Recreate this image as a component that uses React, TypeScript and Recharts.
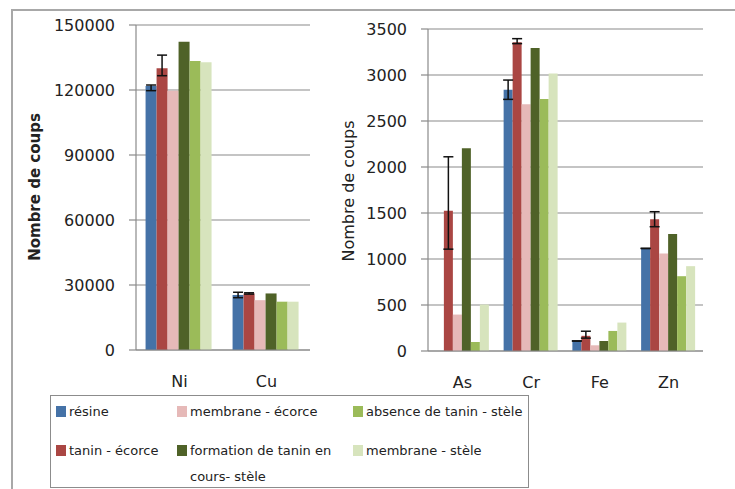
import React from 'react';
import { BarChart, Bar, XAxis, YAxis, CartesianGrid, ErrorBar } from 'recharts';

const leftCategories = ['Ni', 'Cu'];
const rightCategories = ['As', 'Cr', 'Fe', 'Zn'];

const seriesNames = [
  'résine',
  'tanin - écorce',
  'membrane - écorce',
  'formation de tanin en cours- stèle',
  'absence de tanin - stèle',
  'membrane - stèle',
];
const seriesColors = ['#4572A7', '#AA4643', '#E6B9B8', '#4F6228', '#9BBB59', '#D7E4BD'];

// left chart values (Ni, Cu)
const resineL = [121800, 25400];
const taninL = [130000, 26100];
const membraneEcorceL = [119700, 23000];
const formationL = [142300, 26100];
const absenceL = [133400, 22300];
const membraneSteleL = [132800, 22300];
// error bars: [minus, plus]
const resineErrL = [[2100, 500], [1250, 1250]];
const taninErrL = [[3400, 6100], [300, 300]];

// right chart values (As, Cr, Fe, Zn)
const resineR = [0, 2840, 109, 1115];
const taninR = [1525, 3355, 165, 1431];
const membraneEcorceR = [396, 2683, 62, 1060];
const formationR = [2204, 3293, 109, 1271];
const absenceR = [98, 2738, 218, 813];
const membraneSteleR = [505, 3017, 309, 922];
const resineErrR = [[0, 0], [105, 105], [0, 0], [0, 0]];
const taninErrR = [[418, 586], [14, 40], [25, 50], [80, 83]];

const leftTicks = [0, 30000, 60000, 90000, 120000, 150000];
const rightTicks = [0, 500, 1000, 1500, 2000, 2500, 3000, 3500];

const keys = ['s0', 's1', 's2', 's3', 's4', 's5'];

function buildData(cats: string[], series: number[][], errs: number[][][]) {
  return cats.map((c, i) => {
    const row: any = { name: c };
    series.forEach((s, j) => {
      row[keys[j]] = s[i];
    });
    row.e0 = errs[0][i];
    row.e1 = errs[1][i];
    return row;
  });
}

const leftData = buildData(
  leftCategories,
  [resineL, taninL, membraneEcorceL, formationL, absenceL, membraneSteleL],
  [resineErrL, taninErrL]
);
const rightData = buildData(
  rightCategories,
  [resineR, taninR, membraneEcorceR, formationR, absenceR, membraneSteleR],
  [resineErrR, taninErrR]
);

const FONT = '"DejaVu Sans", sans-serif';
const GRID = '#8a8a8a';
const tickStyle = { fontSize: 16, fill: '#222', fontFamily: FONT };

function renderBars() {
  return keys.map((k, j) => (
    <Bar key={k} dataKey={k} fill={seriesColors[j]} isAnimationActive={false}>
      {j < 2 ? (
        <ErrorBar dataKey={'e' + j} width={5} stroke="#111" strokeWidth={1.5} />
      ) : null}
    </Bar>
  ));
}

const legendLayout = [
  { idx: 0, x: 56, y: 412 },
  { idx: 1, x: 56, y: 451 },
  { idx: 2, x: 177, y: 412 },
  { idx: 3, x: 177, y: 451 },
  { idx: 4, x: 353, y: 412 },
  { idx: 5, x: 353, y: 451 },
];

export default function App() {
  return (
    <div
      style={{
        position: 'absolute',
        left: 0,
        top: 0,
        width: 735,
        height: 489,
        overflow: 'hidden',
        background: '#fff',
        fontFamily: FONT,
      }}
    >
      <div
        style={{
          position: 'absolute',
          left: 11,
          top: 9,
          width: 740,
          height: 500,
          border: '2px solid #a8a8a8',
        }}
      />
      <div style={{ position: 'absolute', left: 0, top: 0 }}>
        <BarChart
          width={320}
          height={400}
          data={leftData}
          margin={{ top: 25, right: 10, bottom: 20, left: 0 }}
          barGap={0}
          barCategoryGap="11%"
        >
          <CartesianGrid vertical={false} stroke={GRID} strokeWidth={1.2} />
          <XAxis
            dataKey="name"
            height={30}
            tickLine={false}
            tickSize={0}
            tickMargin={26}
            axisLine={{ stroke: GRID, strokeWidth: 1.2 }}
            tick={tickStyle}
            interval={0}
          />
          <YAxis
            width={136}
            domain={[0, 150000]}
            ticks={leftTicks}
            tickSize={7}
            tickMargin={14}
            tickLine={{ stroke: GRID, strokeWidth: 1.2 }}
            axisLine={{ stroke: GRID, strokeWidth: 1.2 }}
            tick={tickStyle}
            interval={0}
          />
          {renderBars()}
        </BarChart>
      </div>
      <div style={{ position: 'absolute', left: 320, top: 0 }}>
        <BarChart
          width={393}
          height={400}
          data={rightData}
          margin={{ top: 29, right: 10, bottom: 19, left: 0 }}
          barGap={0}
          barCategoryGap="10%"
        >
          <CartesianGrid vertical={false} stroke={GRID} strokeWidth={1.2} />
          <XAxis
            dataKey="name"
            height={30}
            tickLine={false}
            tickSize={0}
            tickMargin={26}
            axisLine={{ stroke: GRID, strokeWidth: 1.2 }}
            tick={tickStyle}
            interval={0}
          />
          <YAxis
            width={108}
            domain={[0, 3500]}
            ticks={rightTicks}
            tickSize={7}
            tickMargin={14}
            tickLine={{ stroke: GRID, strokeWidth: 1.2 }}
            axisLine={{ stroke: GRID, strokeWidth: 1.2 }}
            tick={tickStyle}
            interval={0}
          />
          {renderBars()}
        </BarChart>
      </div>
      <div
        style={{
          position: 'absolute',
          left: 35,
          top: 187,
          transform: 'translate(-50%, -50%) rotate(-90deg)',
          whiteSpace: 'nowrap',
          fontSize: 15,
          fontWeight: 'bold',
          color: '#222',
        }}
      >
        Nombre de coups
      </div>
      <div
        style={{
          position: 'absolute',
          left: 348,
          top: 191,
          transform: 'translate(-50%, -50%) rotate(-90deg)',
          whiteSpace: 'nowrap',
          fontSize: 16,
          color: '#222',
        }}
      >
        Nombre de coups
      </div>
      <div
        style={{
          position: 'absolute',
          left: 50,
          top: 395,
          width: 477,
          height: 91,
          border: '1px solid #8c8c8c',
        }}
      />
      {legendLayout.map((l) => (
        <div key={l.idx}>
          <div
            style={{
              position: 'absolute',
              left: l.x,
              top: l.y - 6,
              width: 10,
              height: 11,
              background: seriesColors[l.idx],
            }}
          />
          <div
            style={{
              position: 'absolute',
              left: l.x + 13,
              top: l.y - 13,
              width: 160,
              fontSize: 13,
              lineHeight: '26px',
              color: '#222',
            }}
          >
            {seriesNames[l.idx]}
          </div>
        </div>
      ))}
    </div>
  );
}
